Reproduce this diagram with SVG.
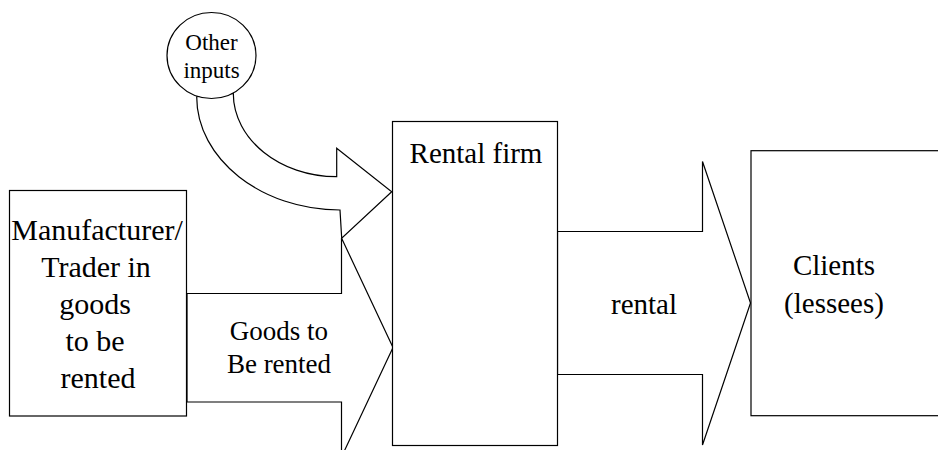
<svg xmlns="http://www.w3.org/2000/svg" width="938" height="450" viewBox="0 0 938 450">
<style>
.s{fill:#fff;stroke:#000;stroke-width:1.2}
.t{font-family:"Liberation Serif","Times New Roman",serif;fill:#000;text-anchor:middle}
</style>
<rect width="938" height="450" fill="#fff"/>
<g id="connectors">
<path id="goods-arrow" class="s" d="M187,293.5 L341.5,293.5 L341.5,238 L393,347.5 L341.5,457 L341.5,402 L187,402 Z"/>
<path id="inputs-arrow" class="s" d="M196.7,96.7 C196.7,158.9 261.4,210 340,210 L341.7,238.3 L391.7,191.7 L336.7,148.3 L336.7,176.7 C279.8,176.7 233.3,139.2 233.3,93.3 Z"/>
<path id="rental-arrow" class="s" d="M557.5,231.5 L702.5,231.5 L702.5,161.5 L750.5,303 L702.5,445 L702.5,374.5 L557.5,374.5 Z"/>
<text class="t" x="279" y="340" font-size="27">Goods to</text>
<text class="t" x="279" y="373" font-size="27">Be rented</text>
<text class="t" x="644" y="314" font-size="29">rental</text>
</g>
<g id="other-inputs">
<ellipse class="s" cx="211.5" cy="55.5" rx="44.5" ry="43"/>
<text class="t" x="211.5" y="50" font-size="23">Other</text>
<text class="t" x="211.5" y="78" font-size="23">inputs</text>
</g>
<g id="manufacturer">
<rect class="s" x="9.5" y="190.5" width="177" height="225.5"/>
<text class="t" font-size="30"><tspan x="97" y="240">Manufacturer/</tspan><tspan x="96" y="277">Trader in</tspan><tspan x="95" y="314">goods</tspan><tspan x="95" y="351">to be</tspan><tspan x="98" y="388">rented</tspan></text>
</g>
<g id="rental-firm">
<rect class="s" x="392.5" y="121.5" width="165" height="324"/>
<text class="t" x="476" y="163" font-size="29">Rental firm</text>
</g>
<g id="clients">
<rect class="s" x="751" y="150.7" width="220" height="265"/>
<text class="t" x="834" y="275" font-size="29">Clients</text>
<text class="t" x="834" y="313" font-size="29">(lessees)</text>
</g>
</svg>
